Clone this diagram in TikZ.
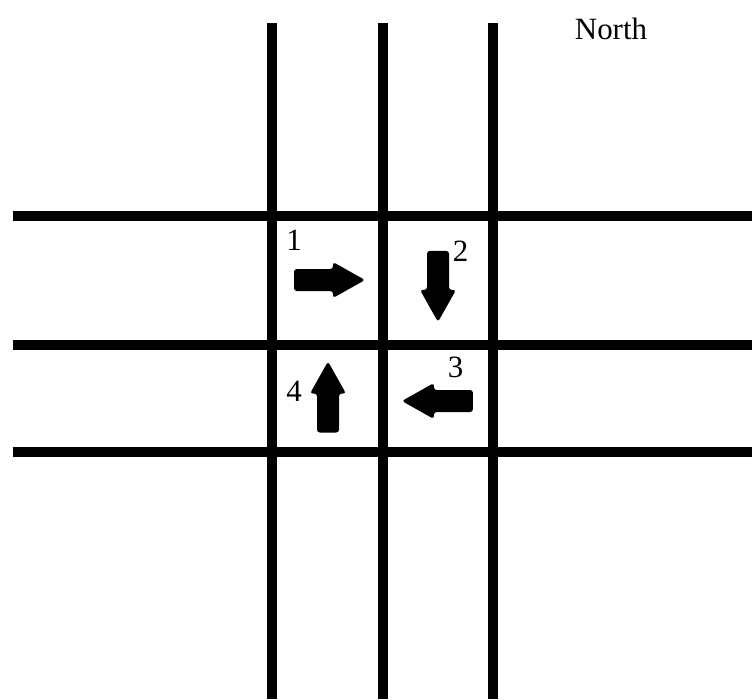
\documentclass[tikz,border=0pt]{standalone}
\usepackage{fontspec}
\setmainfont{Liberation Serif}
\begin{document}
\begin{tikzpicture}[
  x=0.01cm, y=0.01cm,
  road/.style={line width=0.1cm},
  lbl/.style={font=\fontsize{8.8pt}{10pt}\selectfont, inner sep=0pt},
  blockarrow/.pic={
    \fill[rounded corners=0.8pt] (-35.5,-11) -- (3.5,-11) -- (3.5,-18) -- (35.5,0)
      -- (3.5,18) -- (3.5,11) -- (-35.5,11) -- cycle;
  },
]
\useasboundingbox (0,0) rectangle (752,699);
% vertical roads
\foreach \x in {272,383,493}
  \draw[road] (\x,676) -- (\x,0);
% horizontal roads
\foreach \y in {483.3,354.3,247.3}
  \draw[road] (12.7,\y) -- (752,\y);
% turn arrows
\foreach \cx/\cy/\ang in {329.5/419/0, 438/412.6/-90, 437.4/298/180, 328/302/90}
  \pic[rotate=\ang] at (\cx,\cy) {blockarrow};
% numbers
\node[lbl] (lab1) at (294,459) {1};
\node[lbl] (lab2) at (460.5,448) {2};
\node[lbl] (lab3) at (455.5,331.5) {3};
\node[lbl] (lab4) at (294,308) {4};
\node[lbl] (north) at (611,670) {North};
\end{tikzpicture}
\end{document}
